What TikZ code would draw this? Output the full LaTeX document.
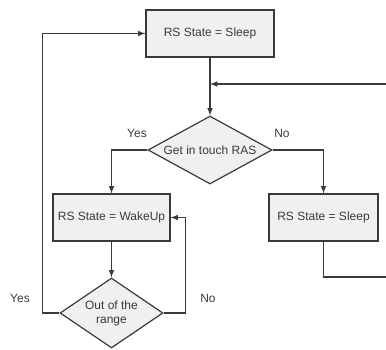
\documentclass[tikz,border=0pt]{standalone}
\usepackage{fontspec}
\setmainfont{Liberation Sans}
\usepackage{tikz}
\usetikzlibrary{shapes.geometric}
\definecolor{boxgray}{HTML}{F0F0F0}
\definecolor{linegray}{HTML}{3A3A3A}

\begin{document}
\begin{tikzpicture}[x=0.75pt, y=-0.75pt, >=latex, line width=0.9pt, draw=linegray, text=linegray,
    font=\fontsize{9}{10.5}\selectfont,
    state/.style = {draw, fill=boxgray, minimum height=35.25pt},
    cond/.style = {draw, diamond, fill=boxgray, aspect=1.8, inner sep=0pt, align=center},
    lbl/.style = {inner sep=0pt}]
    \useasboundingbox (0,0) rectangle (386,350);
    \node[state, minimum width=96pt] (s1) at (210,33.5) {RS State = Sleep};
    \node[cond, below of=s1, node distance=87.375pt, minimum width=93pt, minimum height=51pt] (d1) {Get in touch RAS};
    \node[state, minimum width=87.75pt] (w) at (111.5,217.5) {RS State = WakeUp};
    \node[state, minimum width=81.75pt] (s2) at (323.5,217.5) {RS State = Sleep};
    \node[cond, below of=w, node distance=71.625pt, minimum width=77.25pt, minimum height=52.5pt, aspect=1.47] (d2) {Out of the\\range};
    \coordinate (in) at (386,84);
    \coordinate (out) at (386,277);
    \node[lbl] (y1) at (137,133) {Yes};
    \node[lbl] (n1) at (282,133) {No};
    \node[lbl] (y2) at (20,298) {Yes};
    \node[lbl] (n2) at (208,298) {No};
    \draw[->] (s1) -- (d1);
    \draw[->] (in) -- (s1 |- in);
    \draw[->] (d1.west) -| (w.north);
    \draw[->] (d1.east) -| (s2.north);
    \draw[->] (w) -- (d2);
    \draw[->] (d2.east) -- ++(22,0) |- (w.east);
    \draw[->] (d2.west) -- ++(-17,0) |- (s1.west);
    \draw (s2.south) |- (out);
\end{tikzpicture}
\end{document}
